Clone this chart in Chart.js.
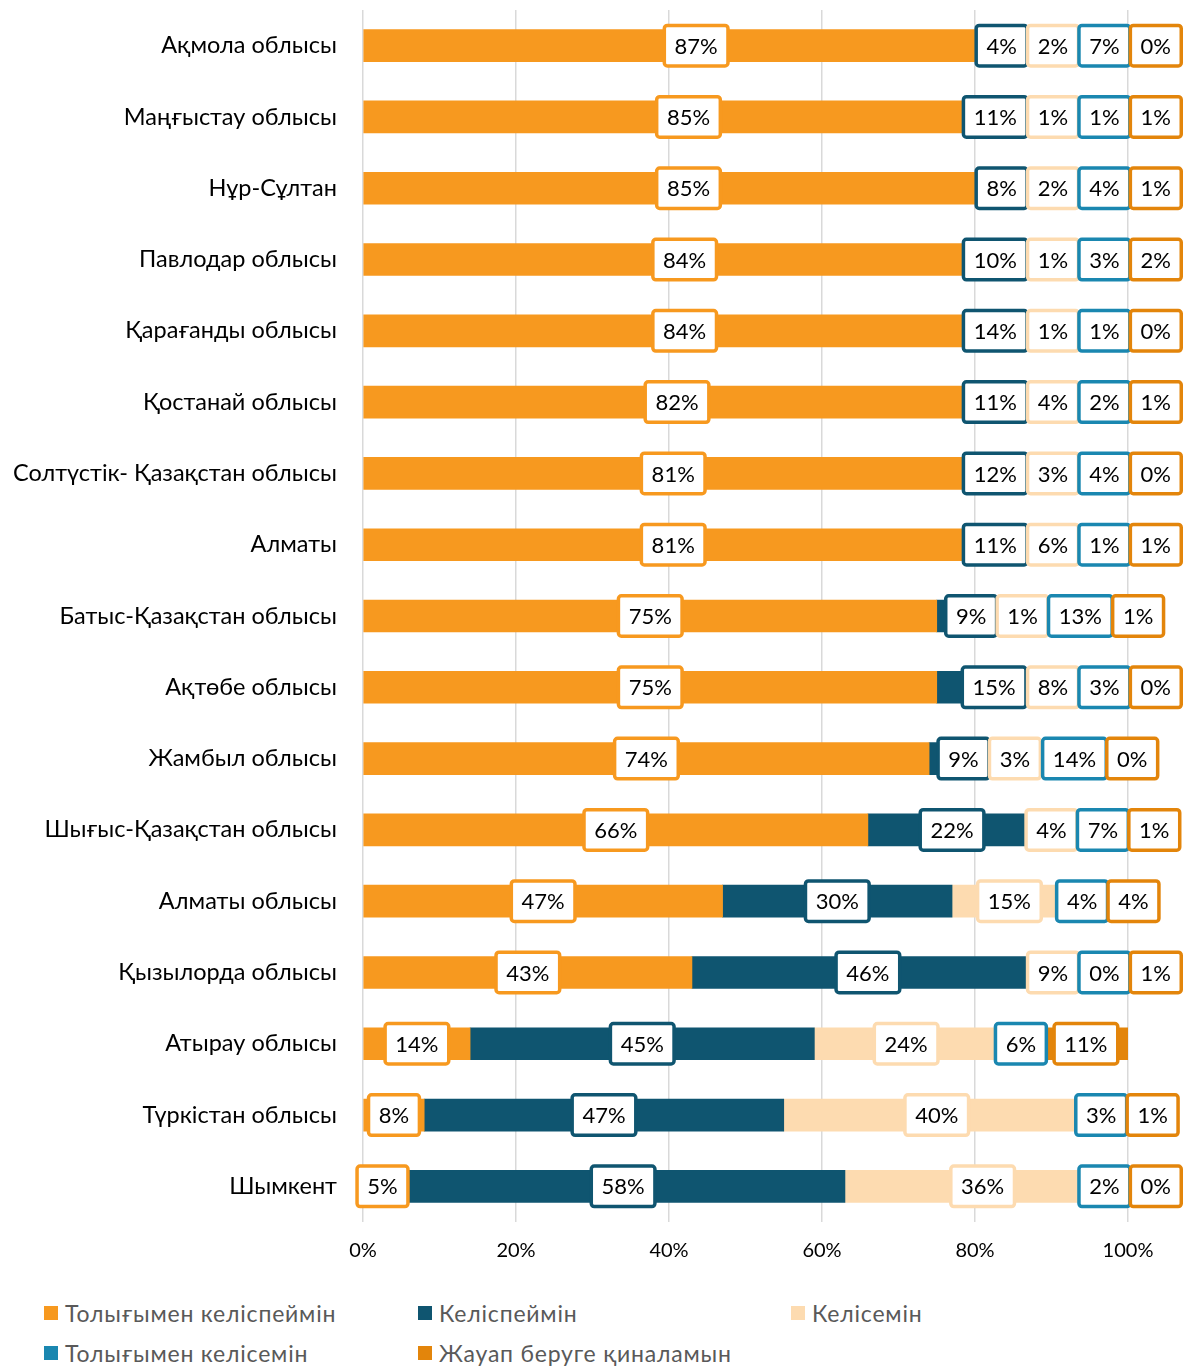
<!DOCTYPE html>
<html>
<head>
<meta charset="utf-8">
<script src="https://cdn.jsdelivr.net/npm/chart.js@4"></script>
<style>
  body { margin: 0; background: #fff; font-family: Lato, sans-serif; }
  #wrap { position: relative; width: 1183px; height: 1275px; }
  #legend { position: relative; width: 1183px; height: 92px; }
  .item { position: absolute; height: 28px; font-size: 23px; letter-spacing: 0.8px; color: #595959; display: flex; align-items: center; white-space: nowrap; }
  .item .sw { width: 14px; height: 14px; margin-right: 7px; display: inline-block; }
</style>
</head>
<body>
<div id="wrap"><canvas id="chart" width="1183" height="1275"></canvas></div>
<div id="legend"></div>
<script>
const categories = [
  'Ақмола облысы', 'Маңғыстау облысы', 'Нұр-Сұлтан', 'Павлодар облысы',
  'Қарағанды облысы', 'Қостанай облысы', 'Солтүстік- Қазақстан облысы', 'Алматы',
  'Батыс-Қазақстан облысы', 'Ақтөбе облысы', 'Жамбыл облысы', 'Шығыс-Қазақстан облысы',
  'Алматы облысы', 'Қызылорда облысы', 'Атырау облысы', 'Түркістан облысы', 'Шымкент'
];
const seriesNames = [
  'Толығымен келіспеймін', 'Келіспеймін', 'Келісемін',
  'Толығымен келісемін', 'Жауап беруге қиналамын'
];
const colors = ['#F7991F', '#0F5570', '#FDDBB0', '#1A87B0', '#E3850B'];

const fullyDisagree = [87, 85, 85, 84, 84, 82, 81, 81, 75, 75, 74, 66, 47, 43, 14, 8, 5];
const disagree      = [4, 11, 8, 10, 14, 11, 12, 11, 9, 15, 9, 22, 30, 46, 45, 47, 58];
const agree         = [2, 1, 2, 1, 1, 4, 3, 6, 1, 8, 3, 4, 15, 9, 24, 40, 36];
const fullyAgree    = [7, 1, 4, 3, 1, 2, 4, 1, 13, 3, 14, 7, 4, 0, 6, 3, 2];
const hardToSay     = [0, 1, 1, 2, 0, 1, 0, 1, 1, 0, 0, 1, 4, 1, 11, 1, 0];
const xTicks = [0, 20, 40, 60, 80, 100];

const seriesValues = [fullyDisagree, disagree, agree, fullyAgree, hardToSay];

// boxed value labels, pushed apart when they collide (like Excel does)
const boxLabels = {
  id: 'boxLabels',
  afterDatasetsDraw(chart) {
    const ctx = chart.ctx;
    ctx.save();
    ctx.font = '22px Lato';
    const limit = chart.width;
    const h = 44;
    categories.forEach((c, i) => {
      const items = chart.data.datasets.map((ds, d) => {
        const el = chart.getDatasetMeta(d).data[i];
        const text = ds.data[i] + '%';
        const w = ctx.measureText(text).width + 24;
        const cx = (el.x + el.base) / 2;
        return { text, w, left: cx - w / 2, y: el.y, color: colors[d] };
      });
      for (let k = 1; k < items.length; k++) {
        const prev = items[k - 1];
        items[k].left = Math.max(items[k].left, prev.left + prev.w - 3);
      }
      let bound = limit;
      for (let k = items.length - 1; k >= 0; k--) {
        if (items[k].left + items[k].w > bound) items[k].left = bound - items[k].w;
        bound = items[k].left + 3;
      }
      items.forEach(it => {
        ctx.beginPath();
        ctx.roundRect(it.left + 1.75, it.y - h / 2 + 1.75, it.w - 3.5, h - 3.5, 3);
        ctx.fillStyle = '#fff';
        ctx.fill();
        ctx.lineWidth = 3.5;
        ctx.strokeStyle = it.color;
        ctx.stroke();
        ctx.fillStyle = '#000';
        ctx.textAlign = 'center';
        ctx.textBaseline = 'middle';
        ctx.fillText(it.text, it.left + it.w / 2, it.y + 1);
      });
    });
    ctx.restore();
  }
};

new Chart(document.getElementById('chart'), {
  type: 'bar',
  data: {
    labels: categories,
    datasets: seriesValues.map((v, i) => ({
      label: seriesNames[i],
      data: v,
      backgroundColor: colors[i],
      barThickness: 32
    }))
  },
  options: {
    indexAxis: 'y',
    responsive: false,
    animation: false,
    layout: { padding: { left: 11, right: 55, top: 10, bottom: 12 } },
    plugins: { legend: { display: false }, tooltip: { enabled: false } },
    scales: {
      x: {
        stacked: true,
        min: 0,
        max: 100,
        afterBuildTicks(s) { s.ticks = xTicks.map(v => ({ value: v })); },
        afterFit(s) { s.paddingLeft = 0; s.paddingRight = 0; s.height = 41; },
        ticks: { callback: v => v + '%', color: '#000', font: { family: 'Lato', size: 20 }, padding: 17 },
        grid: { color: '#d9d9d9', lineWidth: 1.5, drawTicks: false },
        border: { display: false }
      },
      y: {
        stacked: true,
        ticks: { color: '#000', font: { family: 'Lato', size: 23.5 }, padding: 26 },
        grid: { display: false, drawTicks: false },
        border: { display: false },
        afterFit(s) { s.width = 352; s.paddingTop = 0; s.paddingBottom = 0; }
      }
    }
  },
  plugins: [boxLabels]
});

// legend laid out in a grid like the original
const legendPos = [[44, 24], [418, 24], [791, 24], [44, 64], [418, 64]];
const legend = document.getElementById('legend');
seriesNames.forEach((name, i) => {
  const it = document.createElement('div');
  it.className = 'item';
  it.style.left = legendPos[i][0] + 'px';
  it.style.top = legendPos[i][1] + 'px';
  it.innerHTML = '<span class="sw" style="background:' + colors[i] + '"></span>' + name;
  legend.appendChild(it);
});
</script>
</body>
</html>
